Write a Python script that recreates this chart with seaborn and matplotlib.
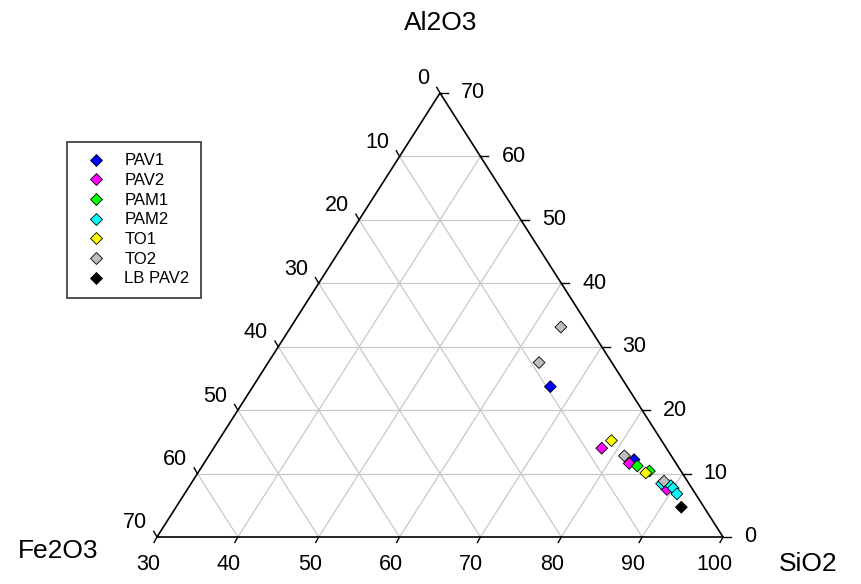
import matplotlib
matplotlib.use("Agg")
import matplotlib.pyplot as plt
from matplotlib.lines import Line2D
import seaborn as sns
import pandas as pd
import numpy as np

# ---- data (wt %) ----
series_names = ["PAV1", "PAV2", "PAM1", "PAM2", "TO1", "TO2", "LB PAV2"]
series_colors = ["#0000FF", "#FF00FF", "#00FF00", "#00FFFF", "#FFFF00", "#BEBEBE", "#000000"]

group = ["PAV1", "PAV1",
         "PAV2", "PAV2", "PAV2",
         "PAM1", "PAM1",
         "PAM2", "PAM2", "PAM2", "PAM2",
         "TO1", "TO1",
         "TO2", "TO2", "TO2", "TO2",
         "LB PAV2"]
sio2 = [66.8, 82.9,
        78.0, 82.6, 89.3,
        83.8, 85.7,
        88.2, 89.5, 90.0, 90.9,
        78.6, 85.4,
        63.4, 63.5, 81.4, 88.3,
        92.5]
al2o3 = [23.7, 12.2,
         14.0, 11.6, 7.5,
         11.2, 10.4,
         8.4, 8.1, 7.7, 6.8,
         15.2, 10.1,
         33.1, 27.5, 12.8, 8.8,
         4.7]
fe2o3 = [9.5, 4.9,
         8.0, 5.8, 3.2,
         5.0, 3.9,
         3.4, 2.4, 2.3, 2.3,
         6.2, 4.5,
         3.5, 9.0, 5.8, 2.9,
         2.8]

bottom_ticks = [30, 40, 50, 60, 70, 80, 90, 100]   # SiO2
left_ticks = [0, 10, 20, 30, 40, 50, 60, 70]        # Fe2O3
right_ticks = [0, 10, 20, 30, 40, 50, 60, 70]       # Al2O3

# ---- figure ----
W, H = 861, 584
fig = plt.figure(figsize=(W / 100, H / 100), dpi=100)
plt.rcParams["font.family"] = ["Liberation Sans", "DejaVu Sans"]

x0, x1, ytop, ybot = 157, 723, 93, 537
ax = fig.add_axes([x0 / W, (H - ybot) / H, (x1 - x0) / W, (ybot - ytop) / H])
ax.set_xlim(30, 100)
ax.set_ylim(0, 70)
ax.set_axis_off()

pxu_x = (x1 - x0) / 70.0
pxu_y = (ybot - ytop) / 70.0

def to_xy(s, a, f):
    t = s + a + f
    s, a, f = 100 * s / t, 100 * a / t, 100 * f / t
    return s + a / 2.0, a

grid_col = "#C8C8C8"
for v in range(10, 70, 10):
    # constant Al2O3
    ax.plot([30 + v / 2, 100 - v / 2], [v, v], color=grid_col, lw=0.9, zorder=1)
    # constant Fe2O3
    ax.plot([30 + (70 - v) / 2, 100 - v], [70 - v, 0], color=grid_col, lw=0.9, zorder=1)
for v in range(40, 100, 10):
    # constant SiO2
    ax.plot([v, v + (100 - v) / 2], [0, 100 - v], color=grid_col, lw=0.9, zorder=1)

# triangle
ax.plot([30, 100, 65, 30], [0, 0, 70, 0], color="black", lw=1.2, zorder=2,
        solid_joinstyle="miter", clip_on=False)

# ticks and labels
tick_fs = 15.5
tick_kw = dict(color="black", lw=1.0, clip_on=False, zorder=2)
for v in bottom_ticks:
    ax.plot([v, v - 3 / pxu_x], [0, -5.5 / pxu_y], **tick_kw)
    ax.annotate(str(v), (v, 0), xytext=(-9 * 0.72, -27 * 0.72), textcoords="offset points",
                ha="center", va="center", fontsize=tick_fs, annotation_clip=False)
for v in left_ticks:
    X, Y = 30 + (70 - v) / 2, 70 - v
    ax.plot([X, X - 3.3 / pxu_x], [Y, Y + 5.7 / pxu_y], **tick_kw)
    ax.annotate(str(v), (X, Y), xytext=(-10.5 * 0.72, 14 * 0.72), textcoords="offset points",
                ha="right", va="center", fontsize=tick_fs, annotation_clip=False)
for v in right_ticks:
    X, Y = 100 - v / 2, v
    ax.plot([X, X + 8 / pxu_x], [Y, Y], **tick_kw)
    ax.annotate(str(v), (X, Y), xytext=(21 * 0.72, 0), textcoords="offset points",
                ha="left", va="center", fontsize=tick_fs, annotation_clip=False)

# data points
xs, ys = zip(*[to_xy(s, a, f) for s, a, f in zip(sio2, al2o3, fe2o3)])
df = pd.DataFrame({"X": xs, "Y": ys, "group": group})
sns.scatterplot(data=df, x="X", y="Y", hue="group", hue_order=series_names,
                palette=series_colors, marker="D", s=36, edgecolor="black",
                linewidth=0.6, legend=False, ax=ax, zorder=3, clip_on=False)
ax.set_xlim(30, 100)
ax.set_ylim(0, 70)
ax.set_axis_off()

# axis titles
fig.text(441 / W, 1 - 23 / H, "Al2O3", ha="center", va="center", fontsize=19)
fig.text(58 / W, 1 - 551 / H, "Fe2O3", ha="center", va="center", fontsize=19)
fig.text(808 / W, 1 - 564 / H, "SiO2", ha="center", va="center", fontsize=19)

# legend
handles = [Line2D([], [], ls="none", marker="D", markersize=6, markerfacecolor=c,
                  markeredgecolor="black", markeredgewidth=0.6) for c in series_colors]
leg = fig.legend(handles, series_names, loc="upper left",
                 bbox_to_anchor=(67 / W, 1 - 142 / H), bbox_transform=fig.transFigure,
                 borderaxespad=0, fontsize=12, frameon=True, fancybox=False,
                 borderpad=0.68, labelspacing=0.28, handlelength=2.15, handletextpad=0.62)
leg.get_frame().set_edgecolor("black")
leg.get_frame().set_linewidth(1.2)

fig.savefig("out.png", dpi=100)
